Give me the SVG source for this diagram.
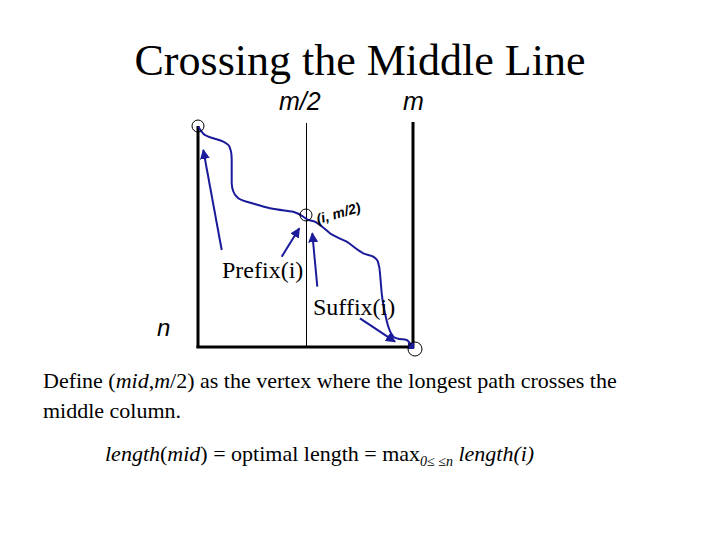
<svg xmlns="http://www.w3.org/2000/svg" width="720" height="540" viewBox="0 0 720 540">
<style>
.t{font-family:"Liberation Serif","Times New Roman",serif;fill:#000}
.a{font-family:"Liberation Sans",Arial,sans-serif;font-style:italic;fill:#000}
.blue{stroke:#1a1a9a;fill:none;stroke-width:2}
.circ{fill:none;stroke:#000;stroke-width:1}
</style>
<defs>
<marker id="ah" viewBox="0 0 10 10" refX="9" refY="5" markerWidth="5" markerHeight="5" orient="auto" markerUnits="strokeWidth">
<path d="M0,0 L10,5 L0,10 z" fill="#1a1a9a"/>
</marker>
</defs>
<rect width="720" height="540" fill="#fff"/>
<text class="t" x="360" y="75" font-size="44" text-anchor="middle">Crossing the Middle Line</text>
<g id="grid">
<line x1="198" y1="126" x2="198" y2="348" stroke="#000" stroke-width="3"/>
<line x1="196.5" y1="347" x2="413" y2="347" stroke="#000" stroke-width="3"/>
<line x1="413" y1="122" x2="413" y2="348" stroke="#000" stroke-width="3"/>
<line x1="306.5" y1="123" x2="306.5" y2="347" stroke="#000" stroke-width="1"/>
</g>
<text class="a" x="279" y="110" font-size="25">m/2</text>
<text class="a" x="403" y="110" font-size="25">m</text>
<text class="a" x="157" y="336" font-size="24">n</text>
<g id="path">
<path class="blue" d="M198.3,126.7 C201,131 203,134 205,135 C208,137 211,137.5 213.3,138.3 C217,139.5 220,140 223.3,141.7 C227,143.5 229.5,145 230,148.3 C231.7,152 231.7,156 231.7,160 L231.7,183.3 C232,190 234,194 236.7,196.7 C239,199.5 243,200.8 246.7,201.7 C255,204 262,206.5 270,208.3 C278,210 286,210.5 293.3,211.7 C298,213 301,215 303.3,216.7 C305,218 306.5,219.5 308.3,220 C311,220.8 313,220.8 315,221.7 C317,222.5 318.5,223.8 320,225 C324,228 327,231 330,233.3 C336,237 341,239 346.7,241.7 C352,245 357,250 363.3,253.3 C367,255 370.5,255 373.3,256.7 C376.5,258.8 378,260.5 378.3,263.3 C379.5,266.5 379.8,270 380,273.3 L381.7,293.3 C382.5,300 383.5,307 385,313.3 C386,318 387,322.5 388.3,326.7 C389.5,330.5 391,334 393.3,336.7 C397,339.5 402,339 406.7,340 C409,341 410.5,344 411.7,346.7"/>
<rect x="408" y="343" width="6" height="6" fill="#1a1a9a"/>
</g>
<g id="node-start"><circle class="circ" cx="198" cy="126" r="6"/></g>
<g id="node-mid"><circle class="circ" cx="306" cy="215" r="6"/>
<text class="a" font-size="14" font-weight="bold" transform="translate(318,224) rotate(-16)">(i, m/2)</text></g>
<g id="node-end"><circle class="circ" cx="415" cy="349" r="7"/></g>
<g id="connectors">
<line class="blue" x1="221.7" y1="250" x2="203.3" y2="150" marker-end="url(#ah)"/>
<line class="blue" x1="281.7" y1="256.7" x2="299.3" y2="228.3" marker-end="url(#ah)"/>
<line class="blue" x1="317.3" y1="286.7" x2="312.3" y2="233.3" marker-end="url(#ah)"/>
<line class="blue" x1="360" y1="318.3" x2="395" y2="341.7" marker-end="url(#ah)"/>
</g>
<text class="t" x="222" y="278" font-size="24">Prefix(i)</text>
<text class="t" x="313" y="315" font-size="24">Suffix(i)</text>
<text class="t" x="43" y="388" font-size="22">Define (<tspan font-style="italic">mid</tspan>,<tspan font-style="italic">m</tspan>/2) as the vertex where the longest path crosses the</text>
<text class="t" x="43" y="418" font-size="22">middle column.</text>
<text class="t" x="105" y="461" font-size="22"><tspan font-style="italic">length</tspan>(<tspan font-style="italic">mid</tspan>) = optimal length = max<tspan font-size="14" font-style="italic" dy="5">0≤  ≤n</tspan><tspan dy="-5" font-style="italic"> length(i)</tspan></text>
</svg>
